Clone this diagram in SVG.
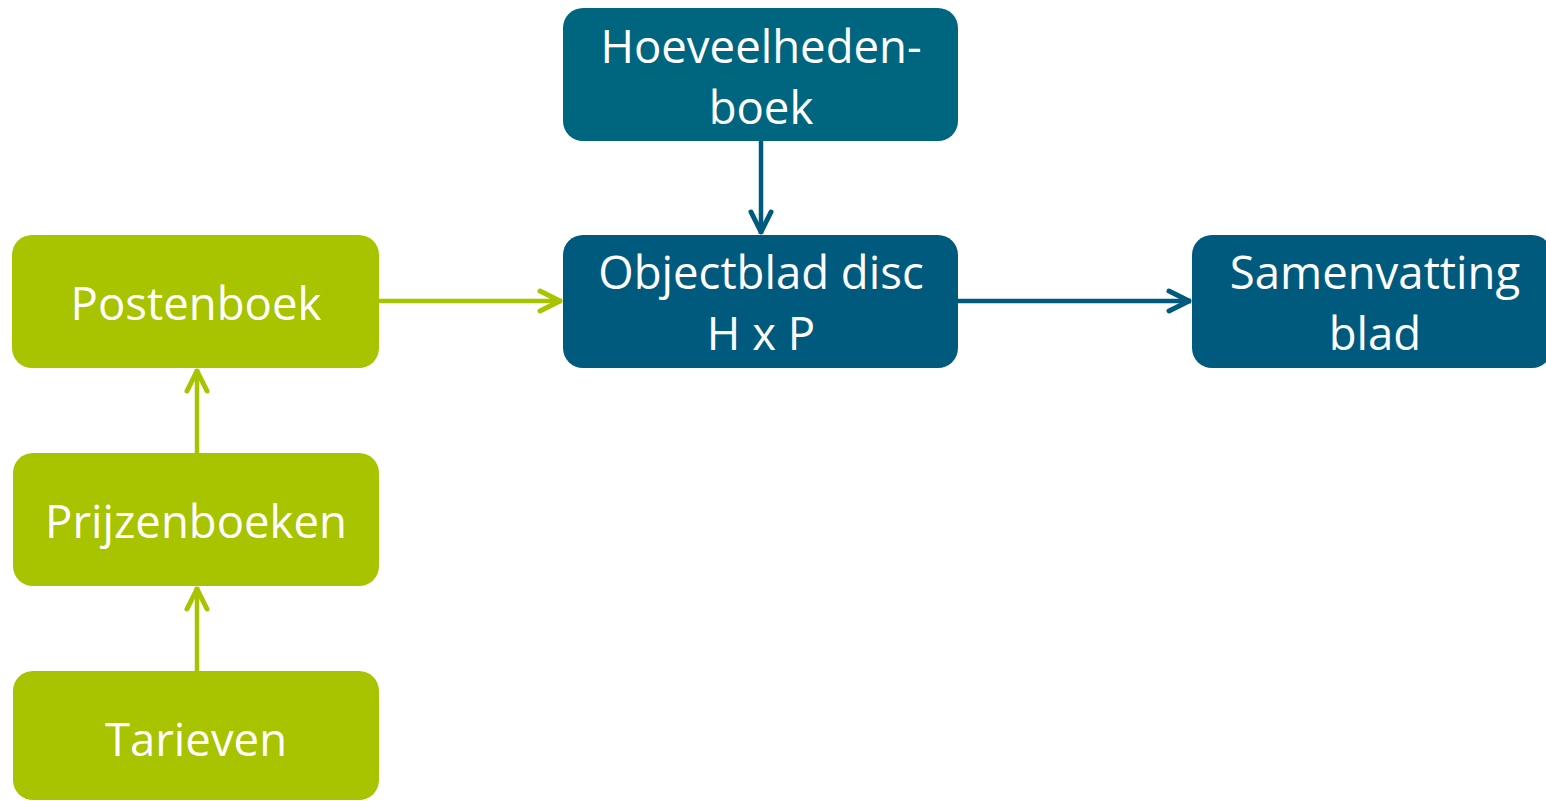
<svg xmlns="http://www.w3.org/2000/svg" width="1546" height="801" viewBox="0 0 1546 801">
<style>
.g{fill:#A8C300}
.b{fill:#005A7E}
.t{fill:#00667F}
.lbl{font-family:"Open Sans","Liberation Sans",sans-serif;font-size:45.5px;fill:#fff;text-anchor:middle}
.cg{stroke:#A8C300;stroke-width:4.5;fill:none}
.cb{stroke:#005A7E;stroke-width:4.5;fill:none}
</style>
<defs>
<marker id="ag" markerUnits="userSpaceOnUse" markerWidth="30" markerHeight="30" viewBox="-26 -15 30 30" refX="0" refY="0" orient="auto">
<path d="M-22,-10 L-2,0 L-22,10" fill="none" stroke="#A8C300" stroke-width="5" stroke-linecap="round" stroke-linejoin="round"/>
</marker>
<marker id="ab" markerUnits="userSpaceOnUse" markerWidth="30" markerHeight="30" viewBox="-26 -15 30 30" refX="0" refY="0" orient="auto">
<path d="M-22,-10 L-2,0 L-22,10" fill="none" stroke="#005A7E" stroke-width="5" stroke-linecap="round" stroke-linejoin="round"/>
</marker>
</defs>
<g id="connectors">
<path class="cg" d="M379,301 H562" marker-end="url(#ag)"/>
<path class="cb" d="M761,141 V234" marker-end="url(#ab)"/>
<path class="cb" d="M958,301 H1191" marker-end="url(#ab)"/>
<path class="cg" d="M197,453 V369" marker-end="url(#ag)"/>
<path class="cg" d="M197,671 V587" marker-end="url(#ag)"/>
</g>
<g id="hoeveelheden">
<rect class="t" x="563" y="8" width="395" height="133" rx="20"/>
<text class="lbl" x="761" y="63">Hoeveelheden-</text>
<text class="lbl" x="761" y="124">boek</text>
</g>
<g id="objectblad">
<rect class="b" x="563" y="235" width="395" height="133" rx="20"/>
<text class="lbl" x="761" y="289">Objectblad disc</text>
<text class="lbl" x="761" y="350">H x P</text>
</g>
<g id="samenvatting">
<rect class="b" x="1192" y="235" width="360" height="133" rx="20"/>
<text class="lbl" x="1375" y="289">Samenvatting</text>
<text class="lbl" x="1375" y="350">blad</text>
</g>
<g id="postenboek">
<rect class="g" x="12" y="235" width="367" height="133" rx="20"/>
<text class="lbl" x="196" y="320">Postenboek</text>
</g>
<g id="prijzenboeken">
<rect class="g" x="13" y="453" width="366" height="133" rx="20"/>
<text class="lbl" x="196" y="538">Prijzenboeken</text>
</g>
<g id="tarieven">
<rect class="g" x="13" y="671" width="366" height="129" rx="20"/>
<text class="lbl" x="196" y="756">Tarieven</text>
</g>
</svg>
